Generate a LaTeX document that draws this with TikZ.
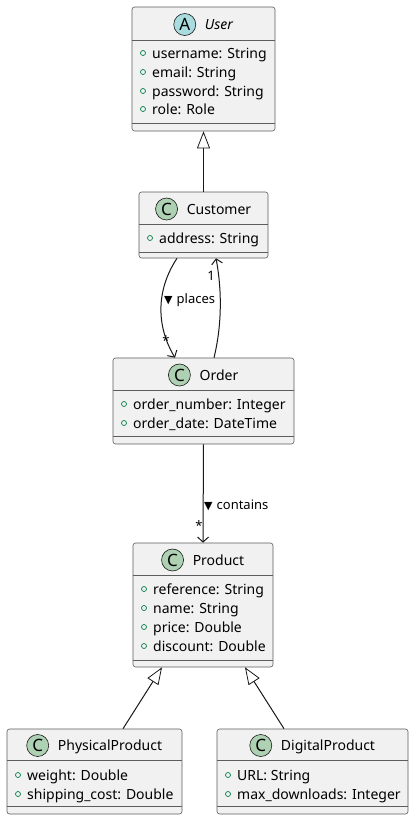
\documentclass[tikz,border=0pt]{standalone}
\usepackage{fontspec}
\setmainfont{Noto Sans}
\newfontfamily\symfont{DejaVu Sans}
\usetikzlibrary{arrows.meta}
\definecolor{boxfill}{HTML}{F1F1F1}
\definecolor{boxline}{HTML}{181818}
\definecolor{spotC}{HTML}{ADD1B2}
\definecolor{spotA}{HTML}{A9DCDF}
\definecolor{attrcol}{HTML}{038048}
\tikzset{
  box/.style={draw=boxline!70, line width=0.6pt, fill=boxfill, rounded corners=2.5pt, inner sep=0pt},
  sepline/.style={draw=boxline!70, line width=0.6pt},
  titletext/.style={inner sep=0pt, font=\fontsize{14}{16}\selectfont, text=black},
  spot/.style={circle, draw=boxline, line width=0.6pt, minimum size=22pt, inner sep=0pt, font=\fontsize{17}{18}\selectfont\bfseries},
  attrmark/.style={circle, draw=attrcol, line width=0.7pt, minimum size=5pt, inner sep=0pt},
  attrtext/.style={inner sep=0pt, anchor=base west, font=\fontsize{14}{16}\selectfont},
  lbl/.style={inner sep=0pt, font=\fontsize{13}{15}\selectfont},
  conn/.style={draw=boxline, line width=1pt},
  assoc/.style={conn, -{Straight Barb[length=5pt,width=11pt,line width=1pt]}},
  inherit/.style={conn, -{Triangle[open,length=17pt,width=13pt,line width=0.8pt]}},
}
\newcommand\umlbox[7]{%
  \node[box, minimum width={(#4-#2)*1pt}, minimum height={(#5-#3)*1pt}] (#1) at ({(#2+#4)/2},{(#3+#5)/2}) {};
  \draw[sepline] (#2,#6) -- (#4,#6);
  \draw[sepline] (#2,#7) -- (#4,#7);
}
% id, center x, mid y, letter, colour, text
\newcommand\umltitle[6]{%
  \node[titletext, anchor=base] (#1-t) at ({#2+15.5},{#3+6}) {#6};
  \node[spot, fill=#5] (#1-s) at ([xshift=-20pt]#1-t.west |- 0,{#3+1}) {#4};
}
\newcommand\umlattr[4]{%
  \node[attrmark] (#1-m) at ({#2+11},#3) {};
  \node[attrtext] (#1) at ({#2+20},{#3+5}) {#4};
}
\begin{document}
\begin{tikzpicture}[x=1pt,y=-1pt]
\useasboundingbox[fill=white] (0,0) rectangle (414,820);

% User
\umlbox{user}{132}{7}{275}{131}{40}{123}
\umltitle{user}{203.5}{23.5}{A}{spotA}{\itshape User}
\umlattr{user-a1}{132}{53}{username: String}
\umlattr{user-a2}{132}{72}{email: String}
\umlattr{user-a3}{132}{91}{password: String}
\umlattr{user-a4}{132}{109}{role: Role}

% Customer
\umlbox{cust}{139}{192}{268}{258}{224}{252}
\umltitle{cust}{203.5}{208}{C}{spotC}{Customer}
\umlattr{cust-a1}{139}{238}{address: String}

% Order
\umlbox{ord}{113}{358}{294}{444}{390}{436}
\umltitle{ord}{203.5}{374}{C}{spotC}{Order}
\umlattr{ord-a1}{113}{404}{order\_number: Integer}
\umlattr{ord-a2}{113}{423}{order\_date: DateTime}

% Product
\umlbox{prod}{133}{543}{273}{667}{575}{660}
\umltitle{prod}{203}{559}{C}{spotC}{Product}
\umlattr{prod-a1}{133}{589}{reference: String}
\umlattr{prod-a2}{133}{608}{name: String}
\umlattr{prod-a3}{133}{627}{price: Double}
\umlattr{prod-a4}{133}{646}{discount: Double}

% PhysicalProduct
\umlbox{phys}{7}{729}{182}{814}{760}{806}
\umltitle{phys}{94.5}{744.5}{C}{spotC}{PhysicalProduct}
\umlattr{phys-a1}{7}{775}{weight: Double}
\umlattr{phys-a2}{7}{794}{shipping\_cost: Double}

% DigitalProduct
\umlbox{dig}{217}{729}{408}{814}{760}{806}
\umltitle{dig}{312.5}{744.5}{C}{spotC}{DigitalProduct}
\umlattr{dig-a1}{217}{775}{URL: String}
\umlattr{dig-a2}{217}{794}{max\_downloads: Integer}

% connectors
\draw[inherit] (cust.north) -- (user.south);
\draw[assoc] ([xshift=-26.5pt]cust.south) .. controls (156,290) and (156,326) .. ([xshift=-28.5pt]ord.north);
\draw[assoc] ([xshift=10.5pt]ord.north) .. controls (222,325) and (222,290) .. ([xshift=12.5pt]cust.south);
\draw[assoc] (ord.south) -- (prod.north);
\draw[inherit] ([xshift=28.5pt]phys.north) -- ([xshift=-41pt]prod.south);
\draw[inherit] ([xshift=-28.5pt]dig.north) -- ([xshift=42pt]prod.south);

% labels
\node[lbl, anchor=west] (lplaces) at (164,300) {{\symfont\fontsize{11}{11}\selectfont ▼}\hspace{4pt}places};
\node[lbl] (mstar1) at (166,341) {*};
\node[lbl] (mone) at (211,276) {1};
\node[lbl, anchor=west] (lcontains) at (204,505) {{\symfont\fontsize{11}{11}\selectfont ▼}\hspace{4pt}contains};
\node[lbl] (mstar2) at (199,526) {*};
\end{tikzpicture}
\end{document}
